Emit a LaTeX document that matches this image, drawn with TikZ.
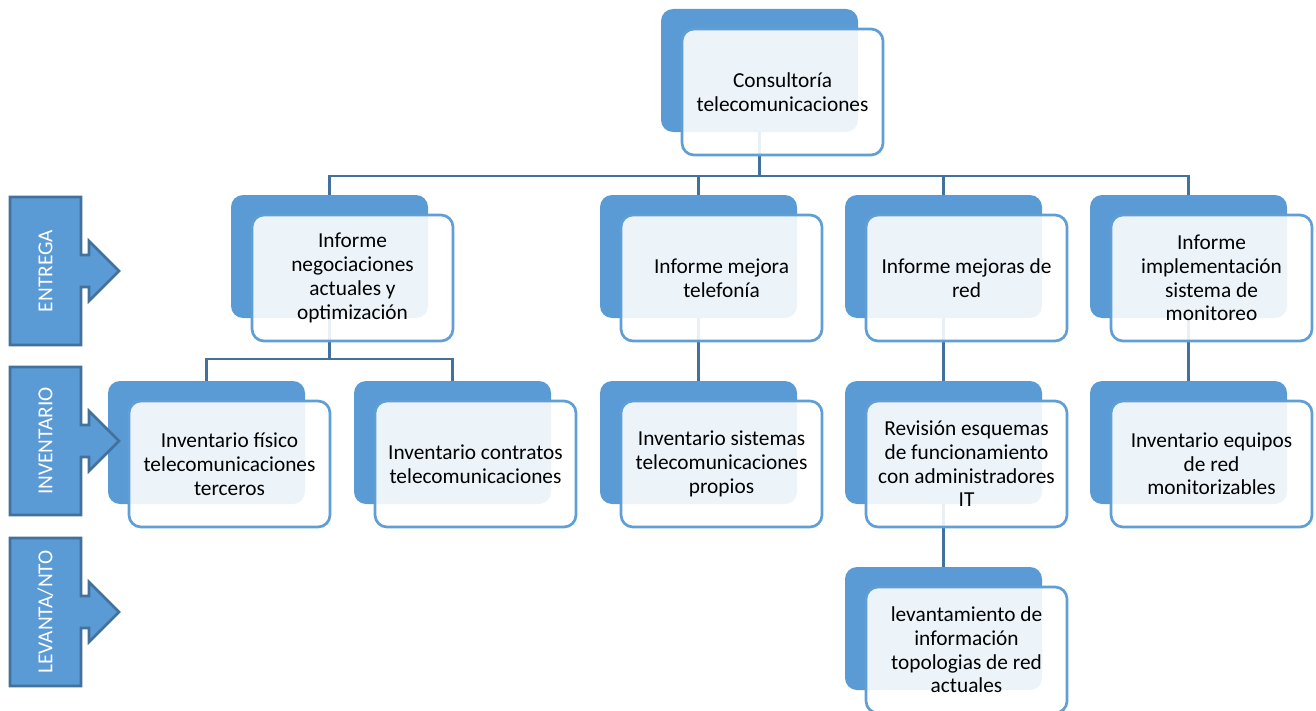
\documentclass[tikz,border=0pt]{standalone}
\usepackage{fontspec}
\setmainfont{Carlito}
\pgfdeclarelayer{bg}
\pgfsetlayers{bg,main}
\definecolor{boxblue}{RGB}{91,155,213}
\definecolor{linkblue}{RGB}{65,113,156}
\definecolor{edgeblue}{RGB}{96,158,214}
\tikzset{
  backbox/.style={fill=boxblue, draw=none, rounded corners=9pt,
    minimum width=147.75pt, minimum height=92.25pt, inner sep=0pt},
  frontbox/.style={fill=white, fill opacity=0.89, text opacity=1, draw=edgeblue,
    line width=2pt, rounded corners=9pt, minimum width=150.75pt, minimum height=94.5pt,
    inner sep=0pt, align=center, text=black,
    font=\fontsize{16pt}{17.8pt}\selectfont},
  conn/.style={draw=linkblue, line width=2pt},
  sidebar/.style={fill=boxblue, draw=linkblue, line width=2pt, line join=miter},
  sidetext/.style={text=white, rotate=90, font=\fontsize{16pt}{17.8pt}\selectfont}
}
\newcommand\orgunit[4]{%
  \node[backbox] (#1-b) at (#2+98.5,#3+61.5) {};
  \node[frontbox] (#1) at (#2+121.5,#3+83) {#4};
}
\newcommand\sidearrow[3]{%
  \path[sidebar] (10,#2) -- (81,#2) -- (81,#2+58) -- (89,#2+58) -- (89,#2+44)
    -- (119,#2+74) -- (89,#2+104) -- (89,#2+90) -- (81,#2+90) -- (81,#2+148)
    -- (10,#2+148) -- cycle;
  \node[sidetext] (#1) at (45.5,#2+74) {#3};
}
\begin{document}
\begin{tikzpicture}[x=0.75pt,y=-0.75pt]
\useasboundingbox (0,0) rectangle (1316,710);

\orgunit{top}{661}{9}{Consultoría\\telecomunicaciones}

\orgunit{b1}{231}{195}{Informe\\negociaciones\\actuales y\\optimización}
\orgunit{b2}{600}{195}{Informe mejora\\telefonía}
\orgunit{b3}{845}{195}{Informe mejoras de\\red}
\orgunit{b4}{1090}{195}{Informe\\implementación\\sistema de\\monitoreo}

\orgunit{i1}{108}{381}{Inventario físico\\telecomunicaciones\\terceros}
\orgunit{i2}{354}{381}{Inventario contratos\\telecomunicaciones}
\orgunit{i3}{600}{381}{Inventario sistemas\\telecomunicaciones\\propios}
\orgunit{i4}{845}{381}{Revisión esquemas\\de funcionamiento\\con administradores\\IT}
\orgunit{i5}{1090}{381}{Inventario equipos\\de red\\monitorizables}

\orgunit{l1}{845}{567}{levantamiento de\\información\\topologias de red\\actuales}

\coordinate (bus1) at (759.5,176);
\coordinate (bus2) at (330,359);

\begin{pgfonlayer}{bg}
  \draw[conn] (top-b.south) -- (top-b.south |- bus1);
  \draw[conn] (b1-b.north) -- (b1-b.north |- bus1) -- (b4-b.north |- bus1) -- (b4-b.north);
  \draw[conn] (b2-b.north) -- (b2-b.north |- bus1);
  \draw[conn] (b3-b.north) -- (b3-b.north |- bus1);
  \draw[conn] (b1-b.south) -- (b1-b.south |- bus2);
  \draw[conn] (i1-b.north) -- (i1-b.north |- bus2) -- (i2-b.north |- bus2) -- (i2-b.north);
  \draw[conn] (b2-b.south) -- (i3-b.north);
  \draw[conn] (b3-b.south) -- (i4-b.north);
  \draw[conn] (b4-b.south) -- (i5-b.north);
  \draw[conn] (i4-b.south) -- (l1-b.north);
\end{pgfonlayer}

\sidearrow{entrega}{197}{ENTREGA}
\sidearrow{inventario}{367}{INVENTARIO}
\sidearrow{levanta}{538}{LEVANTA/NTO}
\end{tikzpicture}
\end{document}
